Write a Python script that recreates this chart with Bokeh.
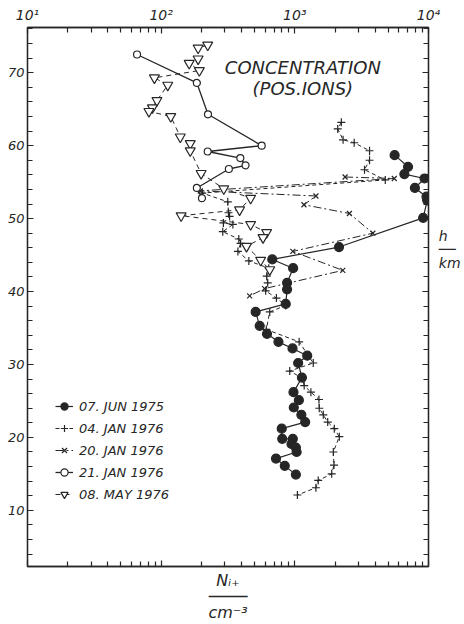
from bokeh.plotting import figure
from bokeh.models import (LogAxis, LinearAxis, FixedTicker, Legend, LegendItem, Label)
from bokeh.embed import file_html
from bokeh.resources import INLINE

# ---------------- data ----------------
decades = [10, 100, 1000, 10000]
decade_labels = ["10¹", "10²", "10³", "10⁴"]
height_ticks = [10, 20, 30, 40, 50, 60, 70]
height_labels = ["10", "20", "30", "40", "50", "60", "70"]

# 07. JUN 1975  (filled circles, solid)
jun75_n = [5580, 7030, 6600, 9340, 7910, 9660, 9780, 9120, 2140, 678, 971, 875, 875, 855,
           509, 546, 619, 754, 961, 1238, 1059, 1130, 977, 1072, 982, 1119, 1195, 798,
           805, 966, 944, 1018, 1031, 723, 841, 1018]
jun75_h = [58.7, 57.1, 56.1, 55.5, 54.2, 53.0, 52.5, 50.1, 46.1, 44.4, 43.2, 41.2, 40.3, 38.3,
           37.2, 35.3, 34.2, 33.1, 32.2, 31.2, 30.2, 28.2, 26.2, 25.1, 24.1, 23.1, 22.1, 21.2,
           19.8, 19.8, 19.1, 18.6, 18.0, 17.1, 16.1, 14.9]

# 04. JAN 1976  (+, dashed)
jan04_n = [2228, 2094, 2296, 2780, 3622, 3622, 3321, 4750, 203, 315, 319, 325, 292, 344, 289,
           381, 393, 375, 453, 638, 616, 627, 605, 728, 855, 649, 612, 1077, 1374, 916, 1143,
           1175, 1319, 1515, 1523, 1633, 1762, 1974, 2152, 1941, 1963, 1887, 1496, 1438, 1045]
jan04_h = [63.2, 62.3, 60.8, 60.4, 59.3, 58.0, 56.7, 55.3, 53.5, 52.3, 50.8, 50.3, 49.4, 49.2,
           48.2, 47.2, 46.6, 45.5, 44.2, 43.2, 42.1, 41.2, 40.1, 39.1, 38.1, 37.2, 34.8, 33.1,
           30.2, 29.1, 28.1, 27.1, 26.2, 25.2, 24.0, 23.1, 22.1, 21.2, 20.1, 18.0, 16.2, 15.0,
           14.1, 13.1, 12.1]

# 20. JAN 1976  (x, dash-dot)
jan20_n = [2377, 5546, 196, 1438, 1170, 2560, 3835, 966, 2285, 594, 459]
jan20_h = [55.7, 55.5, 53.8, 53.1, 51.9, 50.7, 48.0, 45.5, 42.9, 40.4, 39.4]

# 21. JAN 1976  (open circles, solid)
jan21_n = [66, 185, 224, 565, 223, 391, 428, 321, 185, 202]
jan21_h = [72.5, 68.6, 64.3, 60.0, 59.2, 58.3, 57.3, 56.8, 54.2, 52.8]

# 08. MAY 1976  (open triangles, dashed)
may08_n = [223, 189, 189, 162, 193, 89, 112, 93, 86, 81, 118, 139, 165, 165, 199, 294, 467,
           386, 141, 467, 615, 578, 435, 555, 649]
may08_h = [73.8, 73.4, 71.9, 71.3, 70.3, 69.3, 68.3, 66.2, 65.2, 64.7, 64.0, 61.2, 60.3, 59.3,
           56.2, 54.1, 52.8, 51.2, 50.4, 49.2, 48.1, 47.4, 46.2, 44.3, 43.0]

series_names = ["07. JUN 1975", "04. JAN 1976", "20. JAN 1976", "21. JAN 1976", "08. MAY 1976"]

# ---------------- figure ----------------
FONT = "DejaVu Sans"
INK = "#262626"

p = figure(width=464, height=624, x_axis_type="log", x_range=(10, 10000),
           y_range=(2.3, 76.2), x_axis_location="above",
           output_backend="svg", toolbar_location=None,
           min_border_left=27, min_border_top=27, min_border_right=36, min_border_bottom=56)
p.grid.visible = False
p.outline_line_color = INK
p.outline_line_width = 1.3

x_minor = [m * d for d in decades[:-1] for m in range(2, 10)]
xt = FixedTicker(ticks=decades, minor_ticks=x_minor)
y_minor = [v for v in range(4, 77, 2) if v not in height_ticks]
yt = FixedTicker(ticks=height_ticks, minor_ticks=y_minor)


def style(ax, ticks, labels, size="14px", standoff=3):
    ax.axis_line_color = INK
    ax.axis_line_width = 1.3
    ax.major_tick_line_color = INK
    ax.minor_tick_line_color = INK
    ax.major_tick_line_width = 1.2
    ax.minor_tick_line_width = 1.2
    ax.major_tick_in = 6
    ax.major_tick_out = 0
    ax.minor_tick_in = 5
    ax.minor_tick_out = 0
    ax.major_label_text_font = FONT
    ax.major_label_text_font_style = "italic"
    ax.major_label_text_color = INK
    ax.major_label_text_font_size = size
    ax.major_label_standoff = standoff
    ax.major_label_overrides = {t: l for t, l in zip(ticks, labels)}
    ax.axis_label_text_font = FONT
    ax.axis_label_text_font_style = "italic"
    ax.axis_label_text_color = INK


top = p.xaxis[0]
top.ticker = xt
style(top, decades, decade_labels, standoff=5)
left = p.yaxis[0]
left.ticker = yt
style(left, height_ticks, height_labels, size="13px")

bottom = LogAxis(ticker=xt)
style(bottom, decades, [" "] * len(decades), size="1px", standoff=0)
bottom.axis_label = "Nᵢ₊\n────\ncm⁻³"
bottom.axis_label_text_font_size = "16px"
bottom.axis_label_text_line_height = 0.85
bottom.axis_label_standoff = 0
p.add_layout(bottom, "below")

right = LinearAxis(ticker=yt)
style(right, height_ticks, [" "] * len(height_ticks), size="1px", standoff=0)
# blank trailing lines lift the centred fraction up to where the reference shows it
right.axis_label = "h\n──\nkm" + "\n " * 7
right.axis_label_orientation = "horizontal"
right.axis_label_text_font_size = "14px"
right.axis_label_text_line_height = 0.85
right.axis_label_standoff = 7
p.add_layout(right, "right")

# ---------------- series ----------------
items = []
specs = [
    (jun75_n, jun75_h, "solid", "circle", 9, INK, 1.2),
    (jan04_n, jan04_h, "4 3", "cross", 8, None, 1.0),
    (jan20_n, jan20_h, "8 3 2 3", "x", 7, None, 1.0),
    (jan21_n, jan21_h, "solid", "circle", 7, "white", 1.3),
    (may08_n, may08_h, "5 4", "inverted_triangle", 10, "white", 1.0),
]
for (xs, ys, dash, mk, sz, fill, lw), name in zip(specs, series_names):
    ln = p.line(xs, ys, line_color=INK, line_width=lw, line_dash=dash)
    sc = p.scatter(xs, ys, marker=mk, size=sz, line_color=INK, line_width=1.2,
                   fill_color=fill if fill else INK)
    items.append(LegendItem(label=name, renderers=[ln, sc]))

legend = Legend(items=items, location=(28, 62), orientation="vertical",
                border_line_color=None, background_fill_alpha=0,
                label_text_font=FONT, label_text_font_style="italic",
                label_text_font_size="13px", label_text_color=INK,
                glyph_width=18, glyph_height=20, label_height=20, spacing=2,
                padding=0, margin=0, label_standoff=6)
p.add_layout(legend)

# ---------------- title text inside the frame ----------------
for txt, yy in [("CONCENTRATION", 70.75), ("(POS.IONS)", 67.8)]:
    p.add_layout(Label(x=1148, y=yy, text=txt, text_font=FONT, text_font_style="italic",
                       text_font_size="18px", text_color=INK, text_align="center",
                       text_baseline="alphabetic"))

open("out.html", "w").write(file_html(p, INLINE))
